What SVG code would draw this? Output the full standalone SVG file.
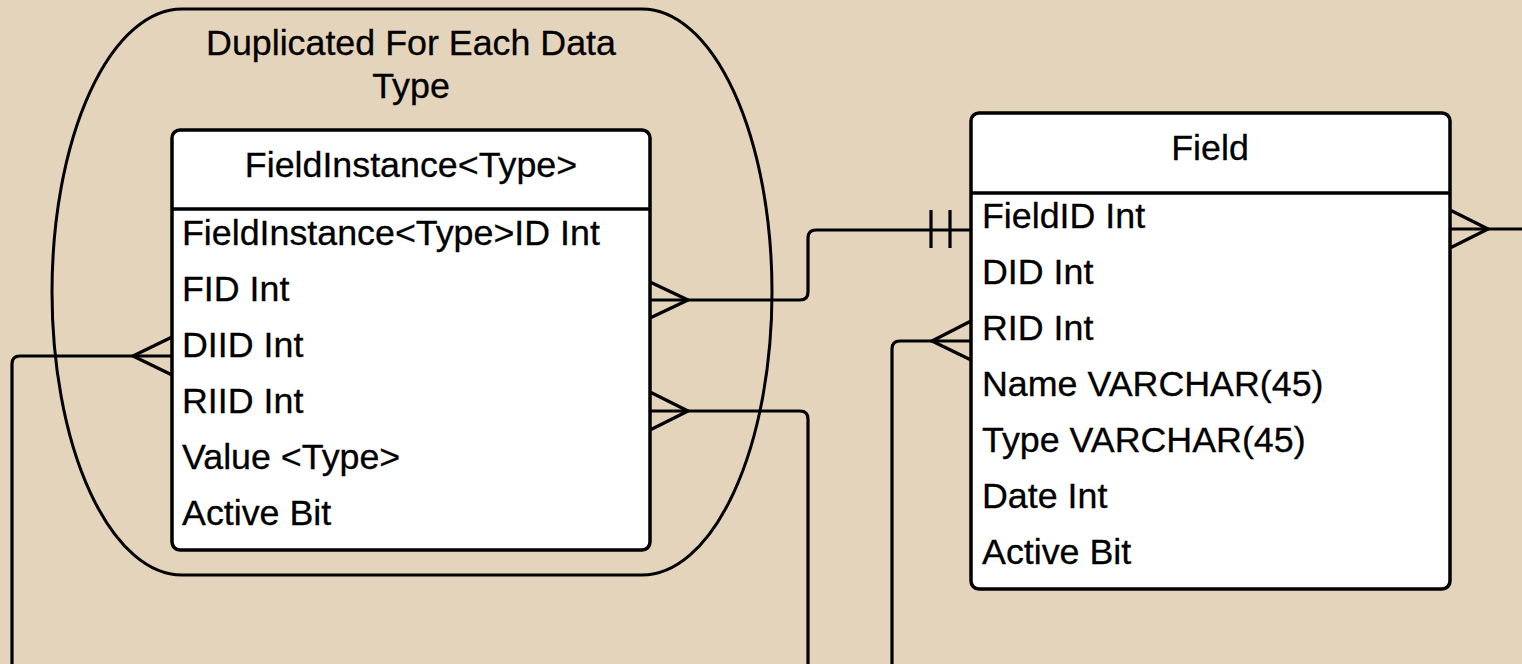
<svg xmlns="http://www.w3.org/2000/svg" width="1522" height="664" viewBox="0 0 1522 664">
  <style>
    .bg { fill: #E4D4BB; }
    .container { fill: none; stroke: #000; stroke-width: 3; }
    .box { fill: #fff; stroke: #000; stroke-width: 3.5; }
    .div { stroke: #000; stroke-width: 3.5; }
    .conn { fill: none; stroke: #000; stroke-width: 3.2; stroke-linejoin: round; }
    text { font-family: "Liberation Sans", Arial, sans-serif; font-size: 35.8px; fill: #000; stroke: #000; stroke-width: 0.3; }
    .title { text-anchor: middle; }
  </style>
  <rect class="bg" x="0" y="0" width="1522" height="664"/>

  <g id="group-duplicated">
    <rect class="container" x="52" y="9" width="720" height="566" rx="130" ry="283"/>
    <text class="title" x="411" y="55">Duplicated For Each Data</text>
    <text class="title" x="411" y="98">Type</text>
  </g>

  <g id="connectors">
    <!-- FID -> Field.FieldID -->
    <path class="conn" d="M650,300 H800 Q808,300 808,292 V238 Q808,230 816,230 H971"/>
    <path class="conn" d="M650,282 L688,300 L650,318"/>
    <path class="conn" d="M931,210 V248 M950,210 V248"/>
    <!-- Field right -->
    <path class="conn" d="M1450,229 H1522"/>
    <path class="conn" d="M1450,210 L1488,229 L1450,248"/>
    <!-- Field.RID -->
    <path class="conn" d="M971,341 H900 Q892,341 892,349 V664"/>
    <path class="conn" d="M971,321 L932,341 L971,360"/>
    <!-- FieldInstance.DIID -->
    <path class="conn" d="M172,356 H20 Q12,356 12,364 V664"/>
    <path class="conn" d="M172,337 L133,356 L172,375"/>
    <!-- FieldInstance.RIID -->
    <path class="conn" d="M650,411 H800 Q808,411 808,419 V664"/>
    <path class="conn" d="M650,392 L688,411 L650,430"/>
  </g>

  <g id="node-fieldinstance">
    <rect class="box" x="172" y="130" width="478" height="420" rx="8" ry="8"/>
    <line class="div" x1="172" y1="209" x2="650" y2="209"/>
    <text class="title" x="411" y="177">FieldInstance&lt;Type&gt;</text>
    <text x="182" y="245">FieldInstance&lt;Type&gt;ID Int</text>
    <text x="182" y="301">FID Int</text>
    <text x="182" y="357">DIID Int</text>
    <text x="182" y="413">RIID Int</text>
    <text x="182" y="469">Value &lt;Type&gt;</text>
    <text x="182" y="525">Active Bit</text>
  </g>

  <g id="node-field">
    <rect class="box" x="971" y="113" width="479" height="476" rx="8" ry="8"/>
    <line class="div" x1="971" y1="193" x2="1450" y2="193"/>
    <text class="title" x="1210" y="160">Field</text>
    <text x="982" y="228">FieldID Int</text>
    <text x="982" y="284">DID Int</text>
    <text x="982" y="340">RID Int</text>
    <text x="982" y="396">Name VARCHAR(45)</text>
    <text x="982" y="452">Type VARCHAR(45)</text>
    <text x="982" y="508">Date Int</text>
    <text x="982" y="564">Active Bit</text>
  </g>
</svg>
